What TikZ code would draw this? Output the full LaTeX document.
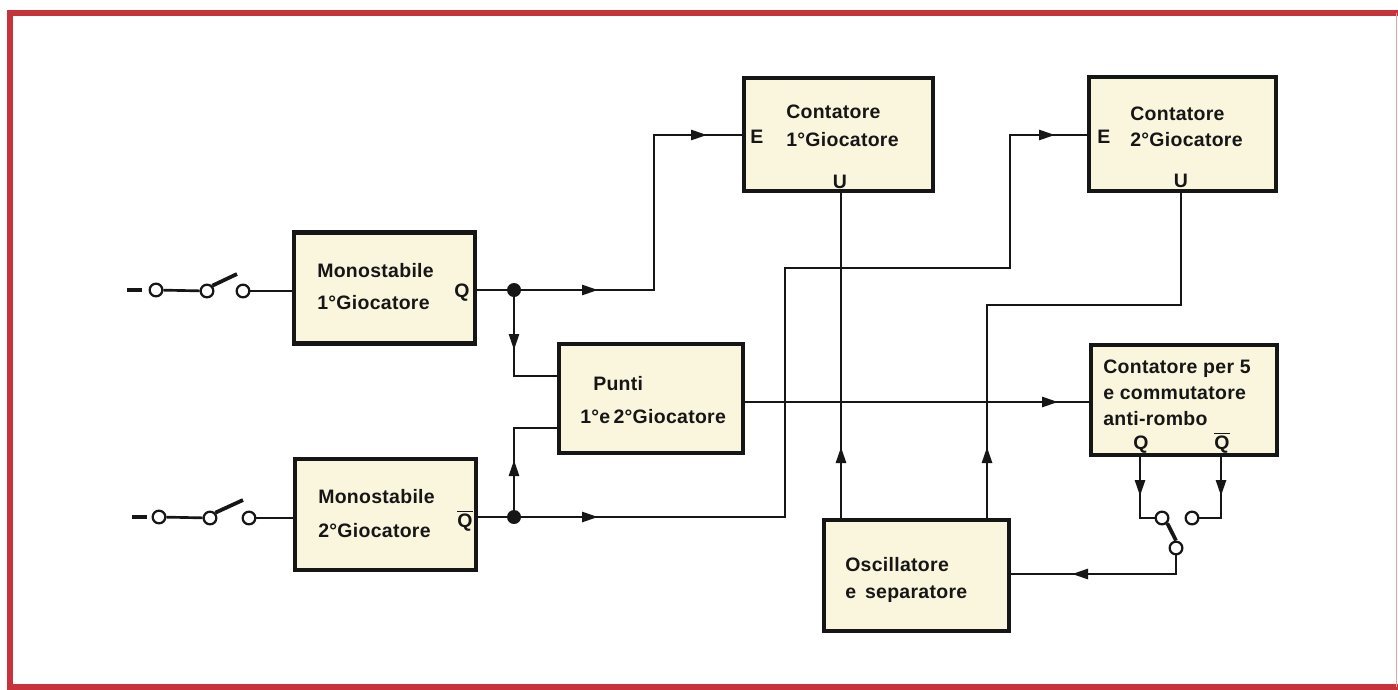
\documentclass[tikz,border=0pt]{standalone}
\usepackage{fontspec}
\setmainfont{Liberation Sans}[LetterSpace=1.5]
\usetikzlibrary{arrows.meta}
\definecolor{framered}{RGB}{200,50,58}
\definecolor{boxfill}{RGB}{250,246,222}
\definecolor{ink}{RGB}{22,22,22}
\tikzset{
  blk/.style 2 args={draw=ink, line width=3.4pt, fill=boxfill, inner sep=0pt,
    minimum width=#1*0.75pt, minimum height=#2*0.75pt},
  txt/.style={inner sep=0pt, text=ink, font=\fontsize{14.6}{16}\selectfont\bfseries},
  wire/.style={draw=ink, line width=2pt},
  tip/.style={draw=ink, line width=2pt, -{Triangle[length=12pt,width=7.5pt]}},
  dot/.style={circle, fill=ink, inner sep=0pt, minimum size=10.5pt},
  term/.style={circle, draw=ink, fill=white, line width=1.7pt, inner sep=0pt, minimum size=9.5pt},
  lever/.style={draw=ink, line width=2.8pt},
}
\newcommand{\qbar}{\ensuremath{\overline{\hbox{Q}}}}
\begin{document}
\begin{tikzpicture}[x=0.75pt,y=-0.75pt]
\useasboundingbox (0,0) rectangle (1398,689);
\fill[white] (0,0) rectangle (1398,689);
% frame
\draw[framered, line width=4.8pt] (1398,13) -- (10,13) -- (10,687.5) -- (1398,687.5);
\draw[framered!45, line width=0.6pt] (1396,13) -- (1396,687);

% blocks
\node[blk={181}{111}] (m1) at (384.5,288) {};
\node[blk={181}{111}] (m2) at (385.5,514.5) {};
\node[blk={189}{113}] (c1) at (838.5,134.5) {};
\node[blk={187}{114}] (c2) at (1182.5,134) {};
\node[blk={184}{109}] (pu) at (651,398.5) {};
\node[blk={186}{110}] (cp) at (1184,400) {};
\node[blk={185}{111}] (os) at (916.5,575.5) {};

% texts
\node[txt, anchor=base west] (m1t1) at (317,277) {Monostabile};
\node[txt, anchor=base west] (m1t2) at (317,309) {1°Giocatore};
\node[txt, anchor=base] (m1q) at (462,297) {Q};
\node[txt, anchor=base west] (m2t1) at (318,503) {Monostabile};
\node[txt, anchor=base west] (m2t2) at (318,537) {2°Giocatore};
\node[txt, anchor=base] (m2q) at (465,527) {\qbar};
\node[txt, anchor=base west] (c1t1) at (786,118) {Contatore};
\node[txt, anchor=base west] (c1t2) at (786,146) {1°Giocatore};
\node[txt, anchor=base west] (c1e) at (750,143) {E};
\node[txt, anchor=base] (c1u) at (840,188) {U};
\node[txt, anchor=base west] (c2t1) at (1130,120) {Contatore};
\node[txt, anchor=base west] (c2t2) at (1130,146) {2°Giocatore};
\node[txt, anchor=base west] (c2e) at (1097,143) {E};
\node[txt, anchor=base] (c2u) at (1181,187) {U};
\node[txt, anchor=base west] (put1) at (593,390) {Punti};
\node[txt, anchor=base west] (put2) at (580,423) {1°e\,2°Giocatore};
\node[txt, anchor=base west] (cpt1) at (1103,373) {Contatore per 5};
\node[txt, anchor=base west] (cpt2) at (1103,399) {e commutatore};
\node[txt, anchor=base west] (cpt3) at (1103,425) {anti-rombo};
\node[txt, anchor=base] (cpq) at (1141,449) {Q};
\node[txt, anchor=base] (cpqb) at (1222,449) {\qbar};
\node[txt, anchor=base west] (ost1) at (845,571) {Oscillatore};
\node[txt, anchor=base west] (ost2) at (845,598) {e\, separatore};

% input switches
\coordinate (n1) at (127,290);
\coordinate (n2) at (142,290);
\node[term] (s1a) at (156,290) {};
\node[term] (s1b) at (207,291) {};
\node[term] (s1c) at (243,291) {};
\coordinate (l1) at (237,274);
\draw[ink, line width=2.4pt] (n1) -- (n2);
\draw[wire] (s1a) -- (s1b);
\draw[lever] (s1b.north east) -- (l1);
\draw[wire] (s1c) -- (m1.west |- s1c);

\coordinate (n3) at (132,517);
\coordinate (n4) at (147,517);
\node[term] (s2a) at (159,517) {};
\node[term] (s2b) at (210,518) {};
\node[term] (s2c) at (249,518) {};
\coordinate (l2) at (243,500);
\draw[ink, line width=2.4pt] (n3) -- (n4);
\draw[wire] (s2a) -- (s2b);
\draw[lever] (s2b.north east) -- (l2);
\draw[wire] (s2c) -- (m2.west |- s2c);

% junction dots
\node[dot] (d1) at (514,290) {};
\node[dot] (d2) at (514,517) {};

% Q path
\draw[wire] (m1.east |- d1) -- (d1);
\draw[wire] (d1) -- (654,290) |- (c1.west |- 0,135);
\draw[tip] (575,290) -- (598,290);
\draw[tip] (685,135) -- (707,135);
\draw[wire] (d1) |- (pu.west |- 0,376);
\draw[tip] (514,330) -- (514,350);

% Qbar path
\draw[wire] (m2.east |- d2) -- (d2);
\draw[wire] (d2) |- (pu.west |- 0,428);
\draw[tip] (514,480) -- (514,460);
\draw[wire] (d2) -- (785,517) -- (785,268) -- (1010,268) |- (c2.west |- 0,135);
\draw[tip] (575,517) -- (598,517);
\draw[tip] (1033,135) -- (1055,135);

% U outputs to oscillator
\draw[wire] (c1.south -| 841,0) -- (os.north -| 841,0);
\draw[tip] (841,467) -- (841,447);
\draw[wire] (c2.south -| 1181,0) -- (1181,305) -- (987,305) -- (os.north -| 987,0);
\draw[tip] (987,467) -- (987,447);

% Punti to counter
\draw[wire] (pu.east |- 0,402) -- (cp.west |- 0,402);
\draw[tip] (1036,402) -- (1058,402);

% anti-rumble selector
\node[term] (w1) at (1162,518) {};
\node[term] (w2) at (1192,518) {};
\node[term] (w3) at (1176,548) {};
\draw[wire] (cp.south -| 1140,0) |- (w1.west);
\draw[tip] (1140,476) -- (1140,496);
\draw[wire] (cp.south -| 1221,0) |- (w2.east);
\draw[tip] (1221,476) -- (1221,496);
\draw[lever] (w1.south east) -- (w3.north);
\draw[wire] (w3.south) |- (os.east |- 0,574);
\draw[tip] (1095,574) -- (1072,574);
\end{tikzpicture}
\end{document}
